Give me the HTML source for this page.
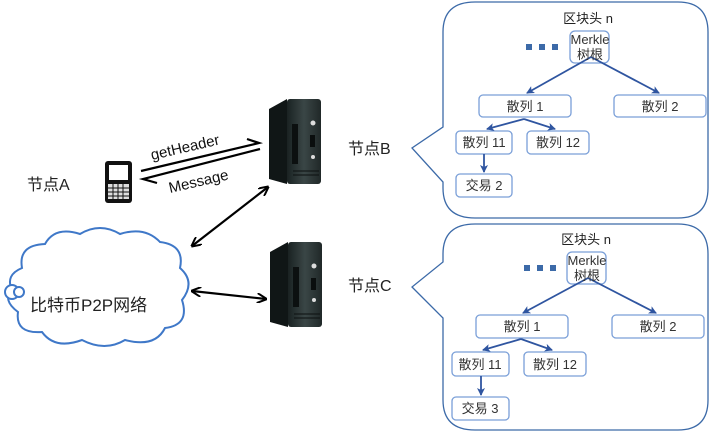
<!DOCTYPE html>
<html><head><meta charset="utf-8"><style>
html,body{margin:0;padding:0;background:#fff;width:711px;height:434px;overflow:hidden}
text{font-family:"Liberation Sans","Noto Sans CJK SC",sans-serif}
</style></head><body>
<svg width="711" height="434" viewBox="0 0 711 434" xmlns="http://www.w3.org/2000/svg">
<defs>
<marker id="ab" markerWidth="8" markerHeight="8" refX="7" refY="4" orient="auto" markerUnits="userSpaceOnUse"><path d="M0,0 L8,4 L0,8 L2,4z" fill="#2f55a0"/></marker>
<marker id="ak" markerWidth="10" markerHeight="10" refX="9" refY="5" orient="auto-start-reverse" markerUnits="userSpaceOnUse"><path d="M0,0 L10,5 L0,10" fill="none" stroke="#000" stroke-width="2"/></marker>
<linearGradient id="sv" x1="0" x2="1"><stop offset="0" stop-color="#1a2222"/><stop offset="0.5" stop-color="#3a4646"/><stop offset="1" stop-color="#202828"/></linearGradient>
<g id="server">
<path d="M0,10 L18,0 L18,85 L0,80z" fill="#101616"/>
<rect x="18" y="0" width="34" height="85" rx="3" fill="url(#sv)"/>
<rect x="23" y="25" width="6" height="40" fill="#0c1010"/>
<circle cx="44" cy="24" r="2.5" fill="#ddd"/><circle cx="44" cy="58" r="2" fill="#ddd"/>
<rect x="41" y="36" width="5" height="12" fill="#0a0e0e"/>
<line x1="24" y1="72" x2="50" y2="72" stroke="#0c1010"/><line x1="24" y1="76" x2="50" y2="76" stroke="#0c1010"/>
</g>
</defs>
<path d="M475,2 H678 Q708,2 708,32 V188 Q708,218 678,218 H475 Q443,218 443,188 V182 L412,148 L443,127 V32 Q443,2 475,2z" fill="#fff" stroke="#3c6aa8" stroke-width="1.3"/>
<path d="M475,224 H678 Q708,224 708,254 V400 Q708,430 678,430 H475 Q443,430 443,400 V318 L412,287 L443,262 V254 Q443,224 475,224z" fill="#fff" stroke="#3c6aa8" stroke-width="1.3"/>
<g font-size="13" fill="#222" text-anchor="middle" stroke="none">
<text x="588" y="23">区块头 n</text>
<text x="586" y="244">区块头 n</text>
</g>
<g fill="#3c6aa8"><rect x="526" y="44" width="6" height="6"/><rect x="539" y="44" width="6" height="6"/><rect x="552" y="44" width="6" height="6"/>
<rect x="524" y="265" width="6" height="6"/><rect x="537" y="265" width="6" height="6"/><rect x="550" y="265" width="6" height="6"/></g>
<g fill="#fff" stroke="#7a9fd8" stroke-width="1.3">
<rect x="570" y="31" width="39" height="32" rx="5"/>
<rect x="479" y="95" width="92" height="22" rx="4"/>
<rect x="614" y="95" width="92" height="22" rx="4"/>
<rect x="456" y="131" width="56" height="23" rx="4"/>
<rect x="527" y="131" width="62" height="23" rx="4"/>
<rect x="456" y="174" width="56" height="23" rx="4"/>
<rect x="567" y="252" width="39" height="32" rx="5"/>
<rect x="476" y="315" width="92" height="23" rx="4"/>
<rect x="612" y="315" width="92" height="23" rx="4"/>
<rect x="452" y="352" width="57" height="24" rx="4"/>
<rect x="524" y="352" width="62" height="24" rx="4"/>
<rect x="452" y="397" width="57" height="23" rx="4"/>
</g>
<g stroke="#2f55a0" stroke-width="1.8" fill="none" marker-end="url(#ab)">
<line x1="591" y1="57" x2="527" y2="93"/><line x1="591" y1="57" x2="659" y2="93"/>
<line x1="524" y1="119" x2="487" y2="129"/><line x1="524" y1="119" x2="555" y2="129"/>
<line x1="484" y1="154" x2="484" y2="172"/>
<line x1="588" y1="278" x2="523" y2="313"/><line x1="588" y1="278" x2="656" y2="313"/>
<line x1="521" y1="339" x2="483" y2="350"/><line x1="521" y1="339" x2="552" y2="350"/>
<line x1="481" y1="376" x2="481" y2="395"/>
</g>
<g font-size="13" fill="#333" text-anchor="middle">
<text x="590" y="44">Merkle</text><text x="590" y="59">树根</text>
<text x="525" y="111">散列 1</text><text x="660" y="111">散列 2</text>
<text x="484" y="147">散列 11</text><text x="558" y="147">散列 12</text>
<text x="484" y="190">交易 2</text>
<text x="587" y="265">Merkle</text><text x="587" y="280">树根</text>
<text x="522" y="331">散列 1</text><text x="658" y="331">散列 2</text>
<text x="480" y="369">散列 11</text><text x="555" y="369">散列 12</text>
<text x="480" y="413">交易 3</text>
</g>
<g font-size="16" fill="#222">
<text x="27" y="190">节点A</text>
<text x="348" y="154">节点B</text>
<text x="348" y="291">节点C</text>
</g>
<use href="#server" x="269" y="99"/>
<use href="#server" x="270" y="242"/>
<rect x="105" y="161" width="27" height="42" rx="3" fill="#111"/>
<rect x="109" y="165" width="19" height="15" fill="#fff"/>
<rect x="108" y="184" width="21" height="15" fill="#ddd"/>
<g stroke="#111" stroke-width="1"><line x1="108" y1="188" x2="129" y2="188"/><line x1="108" y1="192" x2="129" y2="192"/><line x1="108" y1="196" x2="129" y2="196"/><line x1="113" y1="184" x2="113" y2="199"/><line x1="118" y1="184" x2="118" y2="199"/><line x1="123" y1="184" x2="123" y2="199"/></g>
<path d="M141,171 L259,143 L247,139" fill="none" stroke="#000" stroke-width="2.2"/>
<path d="M260,149 L143,179 L157,183" fill="none" stroke="#000" stroke-width="2.2"/>
<text transform="translate(152,160) rotate(-13)" font-size="15" fill="#111">getHeader</text>
<text transform="translate(170,193) rotate(-13)" font-size="15" fill="#111">Message</text>
<line x1="192" y1="246" x2="268" y2="187" stroke="#000" stroke-width="2.2" marker-start="url(#ak)" marker-end="url(#ak)"/>
<line x1="192" y1="291" x2="266" y2="299" stroke="#000" stroke-width="2.2" marker-start="url(#ak)" marker-end="url(#ak)"/>
<path d="M22,268 Q18,245 45,244 Q55,226 80,234 Q100,222 120,234 Q145,226 160,242 Q185,245 180,268 Q196,282 182,300 Q190,325 165,328 Q155,348 125,340 Q105,352 82,340 Q55,350 42,332 Q15,334 18,312 Q2,300 12,290 Q5,275 22,268z" fill="#fff" stroke="#3f78c8" stroke-width="2"/>
<circle cx="12" cy="292" r="7" fill="#fff" stroke="#3f78c8" stroke-width="2"/>
<circle cx="19" cy="292" r="5" fill="#fff" stroke="#3f78c8" stroke-width="2"/>
<text x="30" y="311" font-size="17" fill="#222">比特币P2P网络</text>
</svg>
</body></html>
